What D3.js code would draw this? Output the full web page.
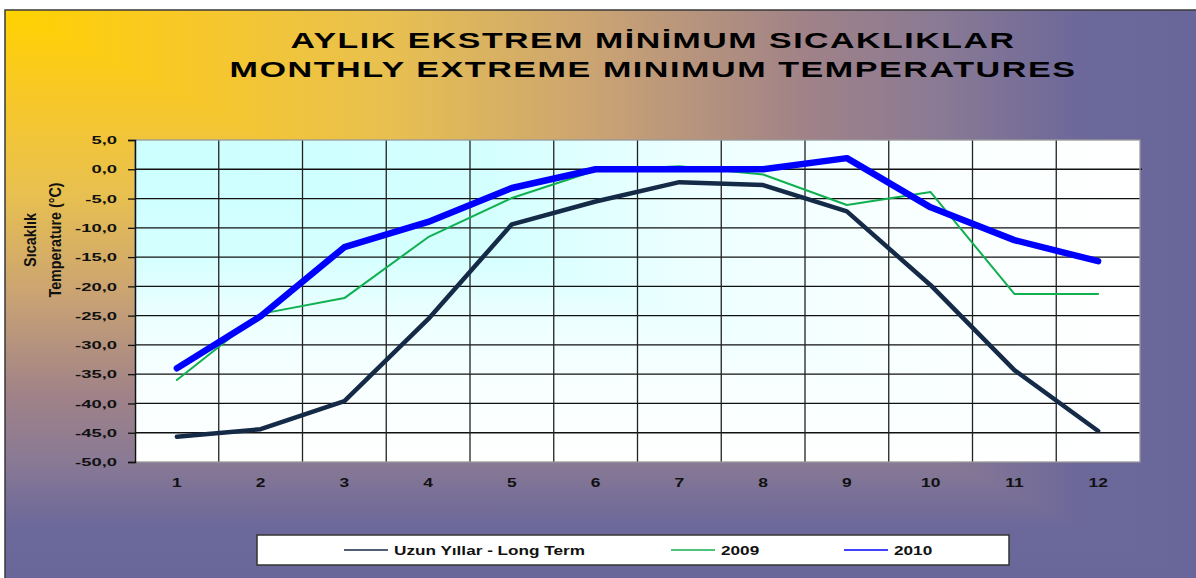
<!DOCTYPE html>
<html>
<head>
<meta charset="utf-8">
<script src="https://cdn.jsdelivr.net/npm/d3@7/dist/d3.min.js"></script>
<style>
  body { margin: 0; background: #fff; }
  svg { display: block; font-family: "Liberation Sans", Arial, sans-serif; }
</style>
</head>
<body>
<div id="chart"></div>
<script>
// DATA
var months = ["1", "2", "3", "4", "5", "6", "7", "8", "9", "10", "11", "12"];
var longTerm = [-45.7, -44.4, -39.6, -25.6, -9.4, -5.5, -2.2, -2.7, -7.2, -19.8, -34.3, -44.7];
var y2009 = [-36.0, -24.7, -22.0, -11.6, -4.9, -0.2, 0.5, -0.9, -6.1, -3.9, -21.3, -21.3];
var y2010 = [-34.0, -25.1, -13.3, -9.0, -3.2, 0.0, 0.0, 0.0, 1.9, -6.5, -12.1, -15.7];
var yTicks = [5, 0, -5, -10, -15, -20, -25, -30, -35, -40, -45, -50];
var seriesNames = ["Uzun Yıllar - Long Term", "2009", "2010"];

// SIZES
var width = 1196, height = 578;
var plot = { left: 135, right: 1140, top: 140, bottom: 462 };

var svg = d3.select("#chart").append("svg")
  .attr("width", width)
  .attr("height", height);

var defs = svg.append("defs");

// stretch text horizontally by its own measured width
function widen(sel, k) {
  sel.each(function() {
    var len = this.getComputedTextLength();
    d3.select(this).attr("textLength", len * k).attr("lengthAdjust", "spacingAndGlyphs");
  });
}

// background "from corner" gradient = horizontal gradient on upper triangle, vertical on lower
function grad(id, x1, y1, x2, y2, stops) {
  var g = defs.append("linearGradient").attr("id", id)
    .attr("gradientUnits", "userSpaceOnUse")
    .attr("x1", x1).attr("y1", y1).attr("x2", x2).attr("y2", y2);
  stops.forEach(function(s) {
    g.append("stop").attr("offset", s[0]).attr("stop-color", s[1]);
  });
}
var bgStops = [[0, "#ffd200"], [0.15, "#f8c828"], [0.32, "#e8c050"], [0.5, "#c9a274"],
               [0.67, "#a08288"], [0.78, "#8a7a94"], [0.9, "#6c689a"], [1, "#68669a"]];
var cx = 5, cy = 10, cw = 1196, ch = 575;
grad("bgH", cx, 0, cx + cw, 0, bgStops);
grad("bgV", 0, cy, 0, cy + ch, bgStops);

svg.append("rect").attr("x", cx).attr("y", cy).attr("width", cw).attr("height", ch + 10)
  .attr("fill", "url(#bgH)");
svg.append("path")
  .attr("d", "M" + cx + "," + cy + "L" + (cx + cw) + "," + (cy + ch) + "L" + cx + "," + (cy + ch) + "Z")
  .attr("fill", "url(#bgV)");
svg.append("path")
  .attr("d", "M" + cx + "," + (height + 5) + "V" + cy + "H" + (width + 5))
  .attr("fill", "none").attr("stroke", "#3a3a3a").attr("stroke-width", 1.5);

// plot background gradient
var pw = plot.right - plot.left, ph = plot.bottom - plot.top;
var plotStops = [[0, "#ccffff"], [0.35, "#d4ffff"], [0.55, "#ecffff"], [0.75, "#f8ffff"], [1, "#ffffff"]];
grad("plH", plot.left, 0, plot.right, 0, plotStops);
grad("plV", 0, plot.top, 0, plot.bottom, plotStops);
svg.append("rect").attr("x", plot.left).attr("y", plot.top).attr("width", pw).attr("height", ph)
  .attr("fill", "url(#plH)");
svg.append("path")
  .attr("d", "M" + plot.left + "," + plot.top + "L" + plot.right + "," + plot.bottom + "L" + plot.left + "," + plot.bottom + "Z")
  .attr("fill", "url(#plV)");

// SCALES
var x = d3.scaleBand().domain(months).range([plot.left, plot.right]);
var y = d3.scaleLinear().domain([-50, 5]).range([plot.bottom, plot.top]);

// GRID
svg.append("g").selectAll("line").data(yTicks.filter(function(d){ return d > -50 && d < 5; }))
  .enter().append("line")
  .attr("x1", plot.left).attr("x2", function(d){ return d === 0 ? plot.right + 2 : plot.right; })
  .attr("y1", function(d){ return y(d); }).attr("y2", function(d){ return y(d); })
  .attr("stroke", "#111").attr("stroke-width", 1.3);
svg.append("g").selectAll("line").data(months.slice(1))
  .enter().append("line")
  .attr("x1", function(d){ return x(d); }).attr("x2", function(d){ return x(d); })
  .attr("y1", plot.top).attr("y2", plot.bottom)
  .attr("stroke", "#222").attr("stroke-width", 1.3);
svg.append("rect").attr("x", plot.left).attr("y", plot.top).attr("width", pw).attr("height", ph)
  .attr("fill", "none").attr("stroke", "#999").attr("stroke-width", 1.3);

// Y AXIS
var yAxis = svg.append("g")
  .attr("transform", "translate(" + plot.left + ",0)")
  .call(d3.axisLeft(y).tickValues(yTicks).tickSize(7).tickPadding(11)
    .tickFormat(function(d){ return (d < 0 ? "-" : "") + Math.abs(d).toFixed(1).replace(".", ","); }));
yAxis.select(".domain").attr("stroke", "#111").attr("stroke-width", 1.5);
yAxis.selectAll(".tick line").attr("stroke", "#111").attr("stroke-width", 1.3);
yAxis.selectAll("text").attr("fill", "#111").style("font-size", "11.5px").style("font-weight", "bold")
  .attr("font-family", "Liberation Sans, Arial, sans-serif");
widen(yAxis.selectAll("text"), 1.6);

// X AXIS
var xAxis = svg.append("g")
  .attr("transform", "translate(0," + plot.bottom + ")")
  .call(d3.axisBottom(x).tickSize(0).tickPadding(16));
xAxis.select(".domain").remove();
xAxis.selectAll("text").attr("fill", "#111").style("font-size", "12px").style("font-weight", "bold")
  .attr("font-family", "Liberation Sans, Arial, sans-serif");
widen(xAxis.selectAll("text"), 1.45);

// LINES
var line = d3.line()
  .x(function(d, i){ return x(months[i]) + x.bandwidth() / 2; })
  .y(function(d){ return y(d); });

var series = [
  { name: seriesNames[0], values: longTerm, color: "#142a47", w: 4.5 },
  { name: seriesNames[1], values: y2009, color: "#10b050", w: 2 },
  { name: seriesNames[2], values: y2010, color: "#0000ff", w: 6.5 }
];
svg.append("g").selectAll("path").data(series).enter().append("path")
  .attr("d", function(d){ return line(d.values); })
  .attr("fill", "none")
  .attr("stroke", function(d){ return d.color; })
  .attr("stroke-width", function(d){ return d.w; })
  .attr("stroke-linejoin", "round")
  .attr("stroke-linecap", "round");

// TITLE
svg.append("text").attr("x", 653).attr("y", 48).attr("text-anchor", "middle")
  .attr("textLength", 725).attr("lengthAdjust", "spacingAndGlyphs")
  .style("font-size", "22px").style("font-weight", "bold").style("letter-spacing", "1px").attr("fill", "#000")
  .text("AYLIK EKSTREM MİNİMUM SICAKLIKLAR");
svg.append("text").attr("x", 653).attr("y", 77).attr("text-anchor", "middle")
  .attr("textLength", 847).attr("lengthAdjust", "spacingAndGlyphs")
  .style("font-size", "22px").style("font-weight", "bold").style("letter-spacing", "1px").attr("fill", "#000")
  .text("MONTHLY EXTREME MINIMUM TEMPERATURES");

// Y TITLE
svg.append("text").attr("transform", "translate(36,240) rotate(-90)")
  .attr("text-anchor", "middle").attr("textLength", 54).attr("lengthAdjust", "spacingAndGlyphs")
  .style("font-size", "17px").style("font-weight", "bold").attr("fill", "#111")
  .text("Sıcaklık");
svg.append("text").attr("transform", "translate(61,240) rotate(-90)")
  .attr("text-anchor", "middle").attr("textLength", 115).attr("lengthAdjust", "spacingAndGlyphs")
  .style("font-size", "17px").style("font-weight", "bold").attr("fill", "#111")
  .text("Temperature (°C)");

// LEGEND
svg.append("rect").attr("x", 257).attr("y", 535).attr("width", 752).attr("height", 30)
  .attr("fill", "#fff").attr("stroke", "#333").attr("stroke-width", 1.5);
var legendX = [344, 671, 844];
var lg = svg.append("g").selectAll("g").data(series).enter().append("g")
  .attr("transform", function(d, i){ return "translate(" + legendX[i] + ",550)"; });
lg.append("line").attr("x1", 0).attr("x2", 44).attr("y1", 0).attr("y2", 0)
  .attr("stroke", function(d){ return d.color; }).attr("stroke-width", 1.5);
var lt = lg.append("text").attr("x", 50).attr("y", 4.5)
  .style("font-size", "12px").style("font-weight", "bold").attr("fill", "#111")
  .text(function(d){ return d.name; });
widen(lt, 1.43);
</script>
</body>
</html>
